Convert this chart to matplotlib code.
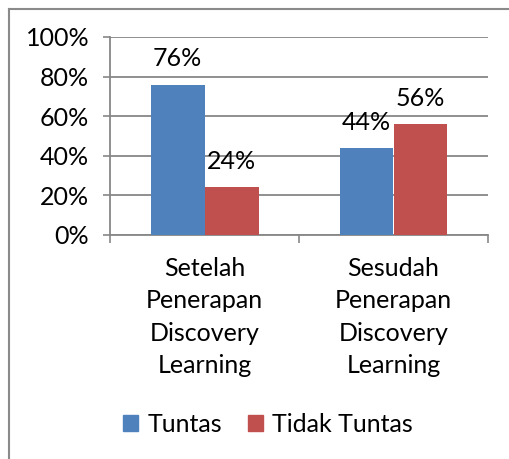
import numpy as np
import matplotlib.pyplot as plt
from matplotlib.lines import Line2D
from matplotlib.patches import Patch

# ---- Data ----
categories = ["Setelah\nPenerapan\nDiscovery\nLearning",
              "Sesudah\nPenerapan\nDiscovery\nLearning"]
series_names = ["Tuntas", "Tidak Tuntas"]
tuntas = [76, 44]
tidak_tuntas = [24, 56]
yticks = [0, 20, 40, 60, 80, 100]

BLUE = "#4F81BD"
RED = "#C0504D"
GRID = "#878787"
FONT = "Lato"
FS = 18

plt.rcParams["font.family"] = [FONT, "DejaVu Sans"]

fig = plt.figure(figsize=(5.10, 4.59), dpi=100)
ax = fig.add_axes([110 / 510, 1 - 235 / 459, 378 / 510, 198 / 459])

x = np.arange(len(categories))
w = 1 / 3.5   # excel gap width 150%
b1 = ax.bar(x - w / 2, tuntas, w, color=BLUE, label=series_names[0], zorder=3)
b2 = ax.bar(x + w / 2, tidak_tuntas, w, color=RED, label=series_names[1], zorder=3)

for bars, vals in ((b1, tuntas), (b2, tidak_tuntas)):
    for bar, v in zip(bars, vals):
        ax.annotate(f"{v}%", (bar.get_x() + bar.get_width() / 2, v),
                    xytext=(0, 18.5), textcoords="offset points",
                    ha="center", va="center", fontsize=FS)

ax.set_xlim(-0.5, 1.5)
ax.set_ylim(0, 100)
ax.set_yticks(yticks)
ax.set_yticklabels([f"{t}%" for t in yticks], fontsize=FS)
ax.yaxis.grid(True, color=GRID, linewidth=1.3, zorder=0)

# category boundaries carry the x ticks, labels sit in between
ax.set_xticks([-0.5, 0.5, 1.5])
ax.set_xticklabels([])
ax.tick_params(axis="x", length=6, width=1.2, color=GRID, direction="out")
ax.tick_params(axis="y", length=5, width=1.2, color=GRID, direction="out", pad=10)
for i, c in enumerate(categories):
    ax.text(i, -11, c, ha="center", va="top", fontsize=FS,
            linespacing=1.5, transform=ax.transData)

for s in ("top", "right"):
    ax.spines[s].set_visible(False)
for s in ("left", "bottom"):
    ax.spines[s].set_color(GRID)
    ax.spines[s].set_linewidth(1.3)

handles = [Patch(color=BLUE, label=series_names[0]),
           Patch(color=RED, label=series_names[1])]
fig.legend(handles=handles, loc="center", bbox_to_anchor=(268 / 510, 1 - 424 / 459),
           ncol=2, frameon=False, fontsize=FS, handlelength=0.6,
           handleheight=0.6, handletextpad=0.35, columnspacing=1.05)

# chart border (only left and top visible in the crop)
fig.add_artist(Line2D([9.5 / 510, 9.5 / 510], [0, 1 - 8.5 / 459],
                      transform=fig.transFigure, color="#8a8a8a", lw=1.5))
fig.add_artist(Line2D([9.5 / 510, 1], [1 - 8.5 / 459, 1 - 8.5 / 459],
                      transform=fig.transFigure, color="#8a8a8a", lw=1.5))

fig.savefig("out.png", dpi=100)
